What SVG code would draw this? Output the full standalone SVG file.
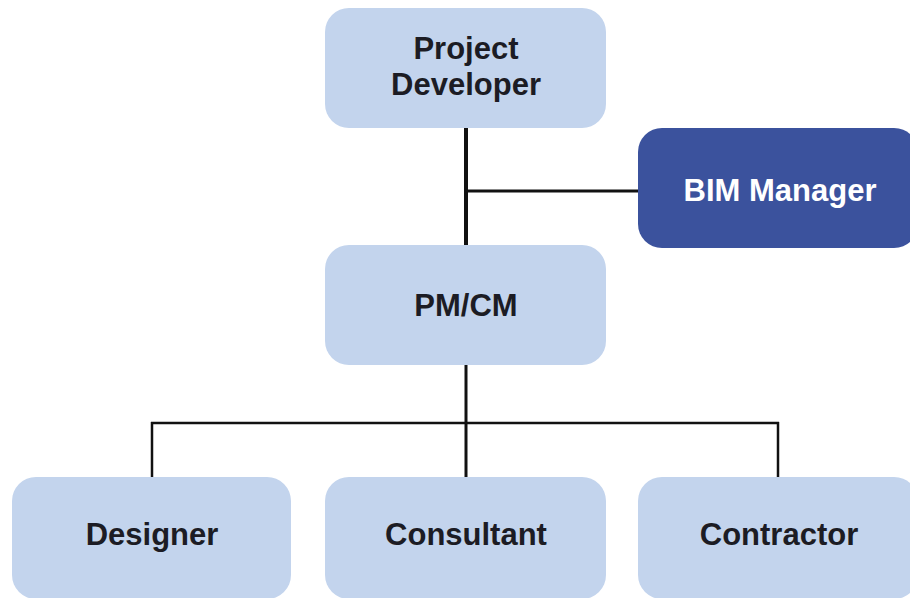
<svg xmlns="http://www.w3.org/2000/svg" width="910" height="598" viewBox="0 0 910 598">
<style>
.node{fill:#c3d4ed;}
.dark{fill:#3b529d;}
.lbl{font-family:"Liberation Sans",Arial,sans-serif;font-weight:bold;font-size:31px;fill:#1c1c24;text-anchor:middle;}
.wl{fill:#fff;}
.c{stroke:#111;fill:none;}
</style>
<rect width="910" height="598" fill="#fff"/>
<g id="connectors">
<line class="c" x1="466" y1="126" x2="466" y2="246" stroke-width="4"/>
<line class="c" x1="466" y1="191" x2="640" y2="191" stroke-width="3"/>
<line class="c" x1="466" y1="364" x2="466" y2="478" stroke-width="3"/>
<line class="c" x1="151" y1="423" x2="779" y2="423" stroke-width="2.5"/>
<line class="c" x1="152" y1="422" x2="152" y2="478" stroke-width="2.5"/>
<line class="c" x1="778" y1="422" x2="778" y2="478" stroke-width="2.5"/>
</g>
<g id="project-developer">
<rect class="node" x="325" y="8" width="281" height="120" rx="24"/>
<text class="lbl" x="466" y="59">Project</text>
<text class="lbl" x="466" y="95">Developer</text>
</g>
<g id="bim-manager">
<rect class="dark" x="638" y="128" width="280" height="120" rx="24"/>
<text class="lbl wl" x="780" y="201">BIM Manager</text>
</g>
<g id="pm-cm">
<rect class="node" x="325" y="245" width="281" height="120" rx="24"/>
<text class="lbl" x="466" y="316">PM/CM</text>
</g>
<g id="designer">
<rect class="node" x="12" y="477" width="279" height="122" rx="24"/>
<text class="lbl" x="152" y="545">Designer</text>
</g>
<g id="consultant">
<rect class="node" x="325" y="477" width="281" height="122" rx="24"/>
<text class="lbl" x="466" y="545">Consultant</text>
</g>
<g id="contractor">
<rect class="node" x="638" y="477" width="280" height="122" rx="24"/>
<text class="lbl" x="779" y="545">Contractor</text>
</g>
</svg>
